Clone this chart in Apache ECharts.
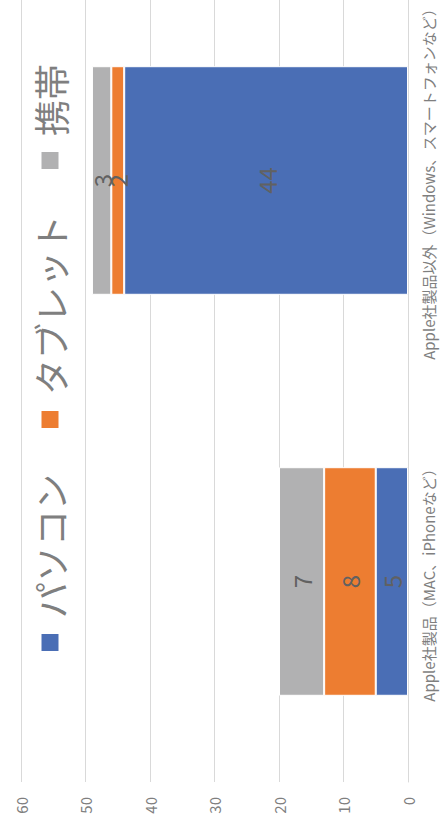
<!DOCTYPE html>
<html>
<head>
<meta charset="utf-8">
<script src="https://cdn.jsdelivr.net/npm/echarts@6/dist/echarts.min.js"></script>
<style>
  html, body { margin: 0; padding: 0; width: 440px; height: 828px; overflow: hidden; background: #fff; }
  #wrap { position: absolute; left: 0; top: 0; width: 828px; height: 440px; overflow: hidden;
          transform-origin: 0 0; transform: translate(0, 828px) rotate(-90deg); }
  #chart { width: 900px; height: 440px; }
</style>
</head>
<body>
<div id="wrap"><div id="chart"></div></div>
<script>
const categories = ['Apple社製品（MAC、iPhoneなど）', 'Apple社製品以外（Windows、スマートフォンなど）'];
const seriesNames = ['パソコン', 'タブレット', '携帯'];
const pcValues = [5, 44];
const tabletValues = [8, 2];
const mobileValues = [7, 3];
const valueTicks = [0, 10, 20, 30, 40, 50, 60];

const colors = ['#4a6eb5', '#ed7d31', '#b1b1b2'];
const font = '"Noto Sans CJK JP", "Noto Sans", sans-serif';

const chart = echarts.init(document.getElementById('chart'), null, { renderer: 'svg' });

function mk(name, data, color) {
  return {
    name: name, type: 'bar', stack: 'total', data: data,
    barCategoryGap: '43%',
    itemStyle: { color: color, borderColor: '#ffffff', borderWidth: 1 },
    label: { show: true, position: 'inside', fontSize: 24, color: '#616161', fontFamily: font },
    emphasis: { disabled: true }
  };
}

chart.setOption({
  animation: false,
  color: colors,
  textStyle: { fontFamily: font },
  legend: {
    left: 170, top: 27,
    itemWidth: 19, itemHeight: 19, itemGap: 44,
    icon: 'rect',
    textStyle: { fontSize: 36, color: '#7f7f7f', fontFamily: font, padding: [0, 0, 0, 10] },
    data: seriesNames
  },
  grid: { left: 46, right: 52, top: 21, bottom: 32, containLabel: false },
  xAxis: {
    type: 'category', data: categories,
    axisLine: { show: true, lineStyle: { color: '#d9d9d9' } },
    axisTick: { show: false },
    axisLabel: { fontSize: 15, color: '#7f7f7f', margin: 13, fontFamily: font, interval: 0 }
  },
  yAxis: {
    type: 'value', min: valueTicks[0], max: valueTicks[valueTicks.length - 1], interval: 10,
    axisLine: { show: false }, axisTick: { show: false },
    axisLabel: { fontSize: 15, color: '#7f7f7f', margin: 15, fontFamily: font },
    splitLine: { lineStyle: { color: '#d9d9d9', width: 1 } }
  },
  series: [
    mk(seriesNames[0], pcValues, colors[0]),
    mk(seriesNames[1], tabletValues, colors[1]),
    mk(seriesNames[2], mobileValues, colors[2])
  ]
});
</script>
</body>
</html>
